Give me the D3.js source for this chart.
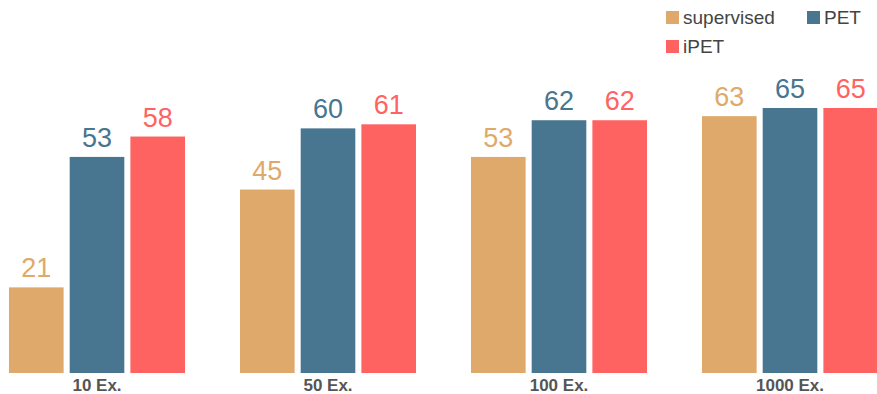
<!DOCTYPE html>
<html>
<head>
<meta charset="utf-8">
<script src="https://cdn.jsdelivr.net/npm/d3@7"></script>
<style>
  body { margin: 0; background: #fff; }
  svg { display: block; font-family: "Liberation Sans", Arial, sans-serif; }
</style>
</head>
<body>
<svg id="chart" width="877" height="394"></svg>
<script>
// data
const categories = ["10 Ex.", "50 Ex.", "100 Ex.", "1000 Ex."];
const seriesNames = ["supervised", "PET", "iPET"];
const supervised = [21, 45, 53, 63];
const pet = [53, 60, 62, 65];
const ipet = [58, 61, 62, 65];

const colors = { supervised: "#E0A96C", PET: "#48758F", iPET: "#FF6361" };
const values = { supervised: supervised, PET: pet, iPET: ipet };

const svg = d3.select("#chart");

const x0 = d3.scaleBand()
    .domain(categories)
    .range([-18.5, 905.5])
    .paddingInner(0.238)
    .paddingOuter(0.119);

const x1 = d3.scaleBand()
    .domain(seriesNames)
    .range([0, x0.bandwidth()])
    .paddingInner(0.1)
    .paddingOuter(0);

const y = d3.scaleLinear().domain([0, 65]).range([373, 108]);

// bars
const groups = svg.selectAll("g.group")
    .data(categories)
    .enter().append("g")
    .attr("class", "group")
    .attr("transform", d => "translate(" + x0(d) + ",0)");

groups.selectAll("rect")
    .data((c, i) => seriesNames.map(s => ({ s: s, v: values[s][i] })))
    .enter().append("rect")
    .attr("x", d => x1(d.s))
    .attr("y", d => y(d.v))
    .attr("width", x1.bandwidth())
    .attr("height", d => y(0) - y(d.v))
    .attr("fill", d => colors[d.s]);

// value labels
groups.selectAll("text.val")
    .data((c, i) => seriesNames.map(s => ({ s: s, v: values[s][i] })))
    .enter().append("text")
    .attr("class", "val")
    .attr("x", d => x1(d.s) + x1.bandwidth() / 2)
    .attr("y", d => y(d.v) - 10)
    .attr("text-anchor", "middle")
    .attr("font-size", 27)
    .attr("fill", d => colors[d.s])
    .text(d => d.v);

// category axis (labels only)
const xAxis = d3.axisBottom(x0).tickSize(0).tickPadding(6);
const axisG = svg.append("g")
    .attr("transform", "translate(0," + y(0) + ")")
    .call(xAxis);
axisG.select(".domain").remove();
axisG.selectAll("text")
    .attr("font-family", "'Liberation Sans', Arial, sans-serif")
    .attr("font-size", 17)
    .attr("font-weight", "bold")
    .attr("fill", "#555");

// legend
const legendItems = [
    { name: "supervised", x: 666, y: 11 },
    { name: "PET", x: 807, y: 11 },
    { name: "iPET", x: 666, y: 40 }
];
const legend = svg.append("g");
legend.selectAll("rect")
    .data(legendItems)
    .enter().append("rect")
    .attr("x", d => d.x)
    .attr("y", d => d.y)
    .attr("width", 13)
    .attr("height", 13)
    .attr("fill", d => colors[d.name]);
legend.selectAll("text")
    .data(legendItems)
    .enter().append("text")
    .attr("x", d => d.x + 17)
    .attr("y", d => d.y + 13)
    .attr("font-size", 19)
    .attr("fill", "#444")
    .text(d => d.name);
</script>
</body>
</html>
